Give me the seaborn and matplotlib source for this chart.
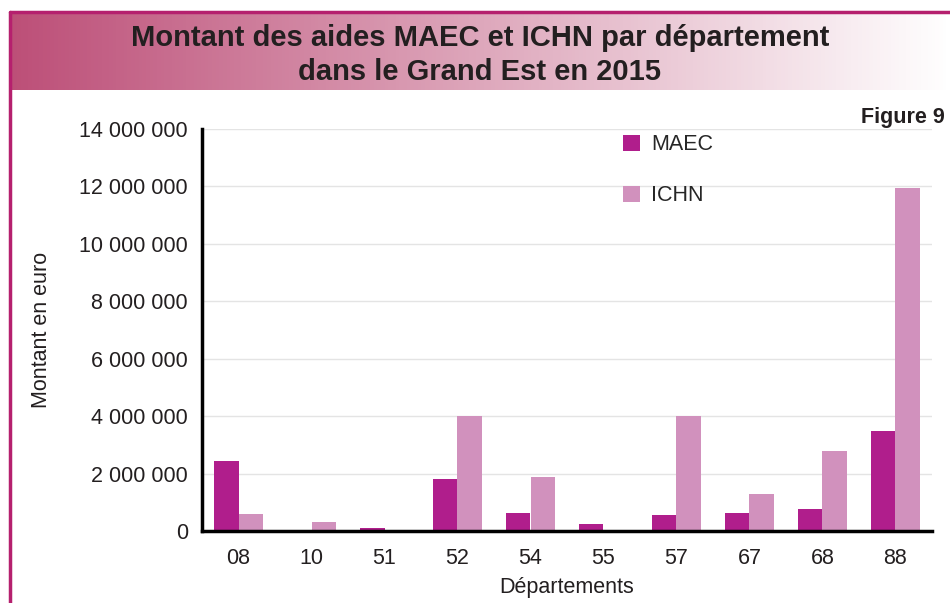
"""Montant des aides MAEC et ICHN par département (Grand Est, 2015)."""

import numpy as np
import pandas as pd
import matplotlib
matplotlib.use("Agg")
import matplotlib.pyplot as plt
from matplotlib.lines import Line2D
from matplotlib.ticker import FuncFormatter, FixedLocator
import seaborn as sns

# Data
departements = ["08", "10", "51", "52", "54", "55", "57", "67", "68", "88"]
maec = [2440000, 0, 100000, 1810000, 630000, 240000, 560000, 630000, 770000, 3480000]
ichn = [590000, 310000, 0, 3990000, 1880000, 0, 4000000, 1290000, 2790000, 11950000]
series = ["MAEC", "ICHN"]
colors = ["#b01e8c", "#d191bd"]

df = pd.DataFrame({
    "Département": departements * 2,
    "Série": np.repeat(series, len(departements)),
    "Montant": maec + ichn,
})

sns.set_theme(style="white")
plt.rcParams["font.family"] = ["Liberation Sans", "DejaVu Sans"]

fig = plt.figure(figsize=(9.5, 6.03), dpi=100)

# Title band with gradient
W, H = 950, 603
band = fig.add_axes([10 / W, 1 - 90 / H, 940 / W, 78 / H])
grad = np.linspace(0, 1, 256).reshape(1, -1)
start = np.array([0.74, 0.31, 0.47])
end = np.array([1.0, 1.0, 1.0])
img = start[None, None, :] * (1 - grad[..., None]) + end[None, None, :] * grad[..., None]
band.imshow(img, aspect="auto", extent=[0, 1, 0, 1])
band.set_axis_off()
fig.text(0.5 + 5 / W, 1 - 55 / H, "Montant des aides MAEC et ICHN par département\ndans le Grand Est en 2015",
         ha="center", va="center", fontsize=21, fontweight="bold", color="#231f20", linespacing=1.3)

border = "#b5206e"
fig.add_artist(Line2D([10 / W, 1], [1 - 12 / H, 1 - 12 / H], color=border, lw=2.5))
fig.add_artist(Line2D([10 / W, 10 / W], [0, 1 - 12 / H], color=border, lw=2.5))

ax = fig.add_axes([202 / W, 1 - 531 / H, 730 / W, 402 / H])
sns.barplot(data=df, x="Département", y="Montant", hue="Série", palette=colors,
            width=0.68, saturation=1, linewidth=0, ax=ax, legend=True)

ax.set_ylim(0, 14000000)
ax.set_yticks(np.arange(0, 14000001, 2000000))
ax.yaxis.set_major_formatter(FuncFormatter(lambda v, p: f"{int(v):,}".replace(",", " ")))
ax.grid(axis="y", color="#e4e4e4", lw=1)
ax.set_axisbelow(True)
ax.set_xlim(-0.5, len(departements) - 0.5)

for s in ["top", "right"]:
    ax.spines[s].set_visible(False)
for s in ["left", "bottom"]:
    ax.spines[s].set_color("black")
    ax.spines[s].set_linewidth(2.5)

ax.tick_params(axis="y", length=6, width=2, color="black", labelsize=15.5, labelcolor="#231f20", pad=4)
ax.tick_params(axis="x", which="major", length=0, labelsize=15.5, labelcolor="#231f20", pad=12)
ax.xaxis.set_minor_locator(FixedLocator(np.arange(-0.5, len(departements), 1)))
ax.tick_params(axis="x", which="minor", length=6, width=3, color="black", direction="out")

ax.set_xlabel("Départements", fontsize=15.5, color="#231f20", labelpad=6)
ax.set_ylabel("Montant en euro", fontsize=15.5, color="#231f20", labelpad=20)

leg = ax.legend(loc="upper left", bbox_to_anchor=(0.55, 1.035), frameon=False, fontsize=15.5,
                handlelength=0.8, handleheight=0.8, handletextpad=0.5, labelspacing=1.4)

fig.text(1 - 5 / W, 1 - 117 / H, "Figure 9", ha="right", va="center", fontsize=15.5,
         fontweight="bold", color="#231f20")

fig.savefig("out.png", dpi=100)
